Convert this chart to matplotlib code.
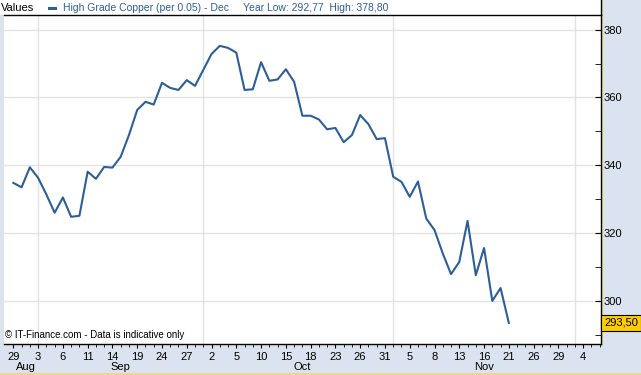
import matplotlib.pyplot as plt
from matplotlib.patches import Rectangle
from matplotlib.lines import Line2D


# daily prices, 29 Aug - 21 Nov (trading days)
prices = [334.8, 333.5, 339.4, 336.3, 331.4, 326.0, 330.5, 324.8, 325.1, 338.1,
          336.0, 339.5, 339.3, 342.5, 348.9, 356.3, 358.7, 357.9, 364.3, 362.8,
          362.2, 365.1, 363.4, 368.1, 372.8, 375.2, 374.6, 373.2, 362.2, 362.4,
          370.4, 364.9, 365.3, 368.3, 364.6, 354.6, 354.6, 353.5, 350.6, 351.0,
          346.8, 348.9, 354.8, 352.1, 347.7, 348.0, 336.6, 335.1, 330.7, 335.2,
          324.3, 320.9, 314.0, 307.9, 311.5, 323.6, 307.6, 315.6, 300.0, 303.8,
          293.5]

day_labels = ["29", "3", "6", "11", "14", "19", "24", "27", "2", "5", "10", "15",
              "18", "23", "26", "31", "5", "8", "13", "16", "21", "26", "29", "4"]
month_names = ["Aug", "Sep", "Oct", "Nov"]
month_label_pos = [1.5, 13, 35, 57]
month_starts = [3, 23, 46, 68]
y_ticks = [300, 320, 340, 360, 380]

plt.rcParams["font.family"] = ["Liberation Sans", "DejaVu Sans"]

W, H = 641, 375
blue = "#2d5e98"
panel = "#dae3ef"
edge_yellow = "#f0d68a"

fig = plt.figure(figsize=(W / 100, H / 100), dpi=100)
fig.patch.set_facecolor("white")

# side and bottom panels
for rect in [(601 / W, 0, 40 / W, 1), (0, 0, 1, 31 / H), (0, 0, 3.5 / W, 1 - 15 / H)]:
    fig.patches.append(Rectangle(rect[:2], rect[2], rect[3], transform=fig.transFigure,
                                 facecolor=panel, edgecolor="none", zorder=-5))
fig.lines.append(Line2D([0, 1], [1.5 / H, 1.5 / H], transform=fig.transFigure,
                        color=edge_yellow, lw=1.5, zorder=-4))
fig.lines.append(Line2D([602 / W, 602 / W], [31 / H, 1], transform=fig.transFigure,
                        color=edge_yellow, lw=1, zorder=-4))
fig.lines.append(Line2D([3.5 / W, 3.5 / W], [31 / H, 1 - 15 / H], transform=fig.transFigure,
                        color=edge_yellow, lw=1, zorder=-4))
fig.lines.append(Line2D([600.5 / W, 600.5 / W], [1 - 15 / H, 1], transform=fig.transFigure,
                        color="black", lw=1, zorder=-4))

ax = fig.add_axes([4 / W, 31 / H, 596.5 / W, 329 / H])
ax.set_facecolor("white")
x = list(range(len(prices)))
ax.plot(x, prices, color=blue, lw=1.5, zorder=3)

ax.set_xlim(-1.13, 71.1)
ax.set_ylim(287.3, 384.3)

# y axis on the right
ax.yaxis.tick_right()
ax.set_yticks(y_ticks)
ax.set_yticks(range(290, 380, 20), minor=True)
ax.tick_params(axis="y", which="major", direction="in", length=4, pad=2,
               labelsize=8, colors="black")
ax.tick_params(axis="y", which="minor", direction="in", length=4)
ax.grid(axis="y", which="major", color="#e2e2e2", lw=1, zorder=0)
for m in month_starts:
    ax.axvline(m, color="#e2e2e2", lw=1, zorder=0)

# x axis
ax.set_xticks(range(0, 3 * len(day_labels), 3))
ax.set_xticklabels(day_labels)
ax.set_xticks(range(0, 72), minor=True)
ax.tick_params(axis="x", which="major", direction="out", length=3, pad=3, labelsize=8)
ax.tick_params(axis="x", which="minor", direction="out", length=2)
for name, pos in zip(month_names, month_label_pos):
    ax.text(pos, -0.07, name, transform=ax.get_xaxis_transform(), ha="center",
            va="center", fontsize=8)

for side in ["top", "bottom", "right"]:
    ax.spines[side].set_color("black")
    ax.spines[side].set_linewidth(1)
ax.spines["left"].set_visible(False)

# last price marker
ax.text(1.006, prices[-1], "293,50", transform=ax.get_yaxis_transform(), ha="left",
        va="center", fontsize=8, clip_on=False,
        bbox=dict(boxstyle="square,pad=0.3", facecolor="#ffcc00", edgecolor="black", lw=0.8))

# header
fig.text(1 / W, 1 - 8 / H, "Values", fontsize=8, va="center", ha="left")
fig.patches.append(Rectangle((48 / W, 1 - 10 / H), 9 / W, 3.5 / H, transform=fig.transFigure,
                             facecolor=blue, edgecolor="none"))
fig.text(63 / W, 1 - 8 / H, "High Grade Copper (per 0.05) - Dec", fontsize=7.5,
         va="center", ha="left", color=blue)
fig.text(243 / W, 1 - 8 / H, "Year Low: 292,77  High: 378,80", fontsize=7.5,
         va="center", ha="left", color=blue)

ax.text(0.002, 9 / 329, "\u00a9 IT-Finance.com - Data is indicative only",
        transform=ax.transAxes, fontsize=7, va="center", ha="left")

fig.savefig("out.png", dpi=100, facecolor=fig.get_facecolor())
